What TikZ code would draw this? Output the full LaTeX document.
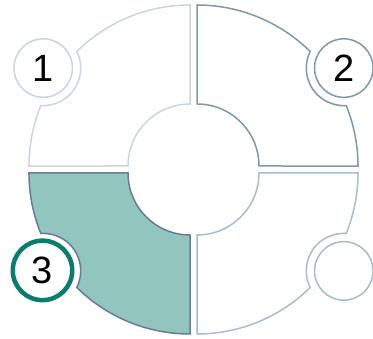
\documentclass[tikz,border=0pt]{standalone}
\usepackage{fontspec}
\setmainfont{Liberation Sans}
\definecolor{cA}{HTML}{CAD6DF}
\definecolor{cB}{HTML}{7F98AC}
\definecolor{cCf}{HTML}{92C5BE}
\definecolor{cCs}{HTML}{687D93}
\definecolor{cD}{HTML}{A9BCCB}
\definecolor{cT}{HTML}{0B7B6B}
\newcommand\quadshape{(0,62) -- (0,161) arc[start angle=90, end angle=134.67, radius=161]
  arc[start angle=386.3, end angle=266.3, radius=37.5]
  arc[start angle=157.93, end angle=180, radius=161] -- (-62,0)
  arc[start angle=180, end angle=90, radius=62] -- cycle}
\tikzset{
  quad/.style={line width=1.5pt, line join=miter},
  num/.style={circle, fill=white, line width=1.5pt, minimum size=58.5pt, inner sep=0pt, font=\fontsize{38}{38}\selectfont}
}
\begin{document}
\begin{tikzpicture}[x=1pt,y=1pt]
\useasboundingbox (0,0) rectangle (373,339);
\begin{scope}[shift={(190,173)}]
  \draw[quad, draw=cA, fill=white] \quadshape;
\end{scope}
\begin{scope}[shift={(197,173)}, xscale=-1]
  \draw[quad, draw=cB, fill=white] \quadshape;
\end{scope}
\begin{scope}[shift={(190,166)}, yscale=-1]
  \draw[quad, draw=cCs, fill=cCf] \quadshape;
\end{scope}
\begin{scope}[shift={(197,166)}, xscale=-1, yscale=-1]
  \draw[quad, draw=cD, fill=white] \quadshape;
\end{scope}
\node[num, draw=cA] (n1) at (43.2,270.9) {1};
\node[num, draw=cB] (n2) at (343.8,270.9) {2};
\node[num, draw=cT, line width=4.5pt, minimum size=59.5pt] (n3) at (42.5,68.6) {3};
\node[num, draw=cD] (n4) at (343.8,68.1) {};
\end{tikzpicture}
\end{document}
